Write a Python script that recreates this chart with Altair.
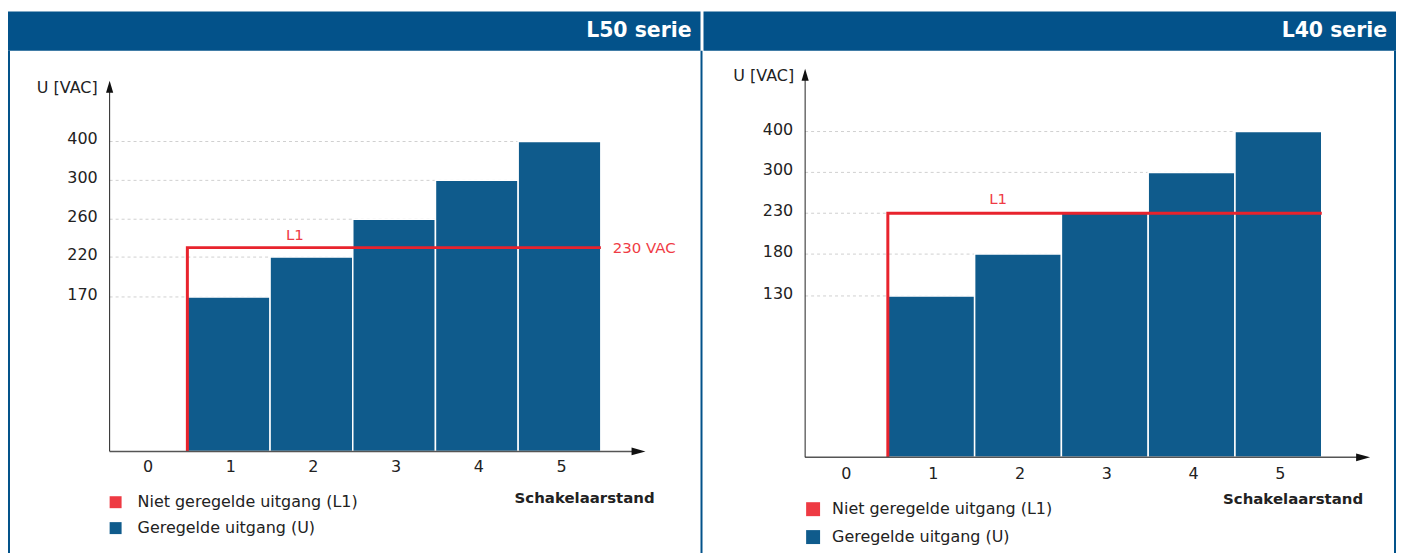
import altair as alt
import pandas as pd

# ---------------- data ----------------
panel_titles = ["L50 serie", "L40 serie"]
switch_positions = [1, 2, 3, 4, 5]
l50_voltage = [170, 220, 260, 300, 400]
l40_voltage = [130, 180, 230, 300, 400]
l50_ticks = [170, 220, 260, 300, 400]
l40_ticks = [130, 180, 230, 300, 400]
x_tick_labels = [0, 1, 2, 3, 4, 5]
l1_voltage = 230
l1_label = "L1"
l1_note = "230 VAC"
y_title = "U [VAC]"
x_title = "Schakelaarstand"
legend_labels = ["Niet geregelde uitgang (L1)", "Geregelde uitgang (U)"]

# ---------------- style ----------------
HEADER = "#03528A"
BAR = "#0F5B8C"
RED = "#E8232D"
RED_TEXT = "#EF3B45"
RED_LEG = "#EE3A43"
INK = "#222222"
FONT = "DejaVu Sans"
W, H = 697, 546
UP = "M0,-1L0.6,1L-0.6,1Z"
RIGHT = "M1,0L-1,-0.55L-1,0.55Z"

layouts = [
    dict(x_dom=[-0.44, 6.04], x_rng=[102, 639.8], y_top=470,
         y_rng=[444, 289, 249, 211, 172, 133, 72],
         xlab_dy=16, ytitle=(90, 79), leg_sq=(108, 495, 521), leg_txt=130,
         sq_size=144, xtitle=(649, 491), l1_x=1.8, l1_dy=-13,
         header=(0, 695), borders=[1, 696], note=True),
    dict(x_dom=[-0.453, 6.057], x_rng=[103, 670], y_top=470,
         y_rng=[450, 288, 246, 205, 164, 123, 60],
         xlab_dy=17, ytitle=(92, 67), leg_sq=(111, 502, 530), leg_txt=130,
         sq_size=196, xtitle=(663, 492), l1_x=1.77, l1_dy=-14,
         header=(1, 696), borders=[695], note=False),
]


def make_panel(title, voltages, ticks, lay):
    xs = alt.Scale(domain=lay["x_dom"], range=lay["x_rng"], nice=False, zero=False)
    ys = alt.Scale(domain=[0] + ticks + [lay["y_top"]], range=lay["y_rng"],
                   nice=False, zero=False)

    x_min = lay["x_dom"][0]
    x_max = lay["x_dom"][1]
    bar_end = max(switch_positions) + 0.5
    bar_start = min(switch_positions) - 0.5

    one = pd.DataFrame({"t": [title]})

    def X(v):
        return alt.X(datum=v, scale=xs, axis=None)

    def Y(v):
        return alt.Y(datum=v, scale=ys, axis=None)

    header = alt.Chart(one).mark_rect(color=HEADER).encode(
        x=alt.value(lay["header"][0]), x2=alt.value(lay["header"][1]),
        y=alt.value(2.5), y2=alt.value(42))
    head_txt = alt.Chart(one).mark_text(
        align="right", baseline="middle", font=FONT, fontSize=20.5,
        fontWeight="bold", color="white").encode(
        x=alt.value(lay["header"][1] - 9), y=alt.value(22.5), text="t:N")

    borders = [
        alt.Chart(one).mark_rule(color=HEADER, strokeWidth=2).encode(
            x=alt.value(bx), y=alt.value(42), y2=alt.value(H))
        for bx in lay["borders"]
    ]

    tick_df = pd.DataFrame({"tick": ticks})
    grid = alt.Chart(tick_df).mark_rule(
        color="#D0D0D0", strokeDash=[3, 3], strokeWidth=1).encode(
        x=X(x_min), x2=alt.datum(bar_end),
        y=alt.Y("tick:Q", scale=ys, axis=None))

    ylabels = alt.Chart(tick_df).mark_text(
        align="right", baseline="middle", font=FONT, fontSize=16, color=INK,
        dx=-12, dy=-2).encode(
        x=X(x_min), y=alt.Y("tick:Q", scale=ys, axis=None), text="tick:Q")

    xlabels = alt.Chart(pd.DataFrame({"pos": x_tick_labels})).mark_text(
        align="center", baseline="middle", font=FONT, fontSize=16, color=INK,
        dx=2, dy=lay["xlab_dy"]).encode(
        x=alt.X("pos:Q", scale=xs, axis=None), y=Y(0), text="pos:Q")

    bars = alt.Chart(pd.DataFrame({"pos": switch_positions, "u": voltages})
                     ).transform_calculate(
        x0="datum.pos - 0.5", x1="datum.pos + 0.5"
    ).mark_rect(color=BAR, stroke="white", strokeWidth=1.5).encode(
        x=alt.X("x0:Q", scale=xs, axis=None),
        x2="x1:Q",
        y=alt.Y("u:Q", scale=ys, axis=None),
        y2=alt.datum(0))

    l1_df = pd.DataFrame({"x": [bar_start, bar_start, bar_end],
                          "u": [0, l1_voltage, l1_voltage], "o": [0, 1, 2]})
    l1 = alt.Chart(l1_df).mark_line(
        color=RED, strokeWidth=3, strokeJoin="miter", strokeCap="butt").encode(
        x=alt.X("x:Q", scale=xs, axis=None),
        y=alt.Y("u:Q", scale=ys, axis=None),
        order="o:Q")

    l1_txt = alt.Chart(pd.DataFrame({"t": [l1_label]})).mark_text(
        font=FONT, fontSize=15, color=RED_TEXT, baseline="middle",
        dy=lay["l1_dy"]).encode(x=X(lay["l1_x"]), y=Y(l1_voltage), text="t:N")

    y_line = alt.Chart(one).mark_rule(color=INK, strokeWidth=1).encode(
        x=X(x_min), y=Y(0), y2=alt.datum(lay["y_top"] - 5))
    x_line = alt.Chart(one).mark_rule(color="#555555", strokeWidth=1.5).encode(
        x=X(x_min), x2=alt.datum(x_max - 0.08), y=Y(0))

    y_arrow = alt.Chart(one).mark_point(
        shape=UP, filled=True, size=144, color="#111111", opacity=1,
        strokeWidth=0, yOffset=6).encode(x=X(x_min), y=Y(lay["y_top"]))
    x_arrow = alt.Chart(one).mark_point(
        shape=RIGHT, filled=True, size=196, color="#111111", opacity=1,
        strokeWidth=0, xOffset=-7).encode(x=X(x_max), y=Y(0))

    ytitle = alt.Chart(pd.DataFrame({"t": [y_title]})).mark_text(
        align="right", baseline="middle", font=FONT, fontSize=16, color=INK).encode(
        x=alt.value(lay["ytitle"][0]), y=alt.value(lay["ytitle"][1]), text="t:N")
    xtitle = alt.Chart(pd.DataFrame({"t": [x_title]})).mark_text(
        align="right", baseline="middle", font=FONT, fontSize=15,
        fontWeight="bold", color=INK).encode(
        x=alt.value(lay["xtitle"][0]), y=alt.value(lay["xtitle"][1]), text="t:N")

    legend = []
    for label, col, yy in zip(legend_labels, [RED_LEG, BAR], lay["leg_sq"][1:]):
        d = pd.DataFrame({"t": [label]})
        legend.append(alt.Chart(d).mark_square(
            color=col, size=lay["sq_size"], opacity=1, strokeWidth=0).encode(
            x=alt.value(lay["leg_sq"][0]), y=alt.value(yy)))
        legend.append(alt.Chart(d).mark_text(
            align="left", baseline="middle", font=FONT, fontSize=16, color=INK).encode(
            x=alt.value(lay["leg_txt"]), y=alt.value(yy), text="t:N"))

    layers = [grid, bars, l1, x_line, y_line, y_arrow, x_arrow, ylabels, xlabels,
              l1_txt, ytitle, xtitle, header, head_txt] + borders + legend
    if lay["note"]:
        layers.append(alt.Chart(pd.DataFrame({"t": [l1_note]})).mark_text(
            align="left", baseline="middle", font=FONT, fontSize=15,
            color=RED_TEXT, dx=12).encode(
            x=X(bar_end), y=Y(l1_voltage), text="t:N"))
    return alt.layer(*layers).properties(width=W, height=H)


left = make_panel(panel_titles[0], l50_voltage, l50_ticks, layouts[0])
right = make_panel(panel_titles[1], l40_voltage, l40_ticks, layouts[1])

chart = alt.hconcat(left, right, spacing=0).resolve_scale(
    x="independent", y="independent"
).properties(padding=0, background="white").configure_view(stroke=None)

chart.save("out.html", embed_options={"renderer": "svg", "actions": False})
